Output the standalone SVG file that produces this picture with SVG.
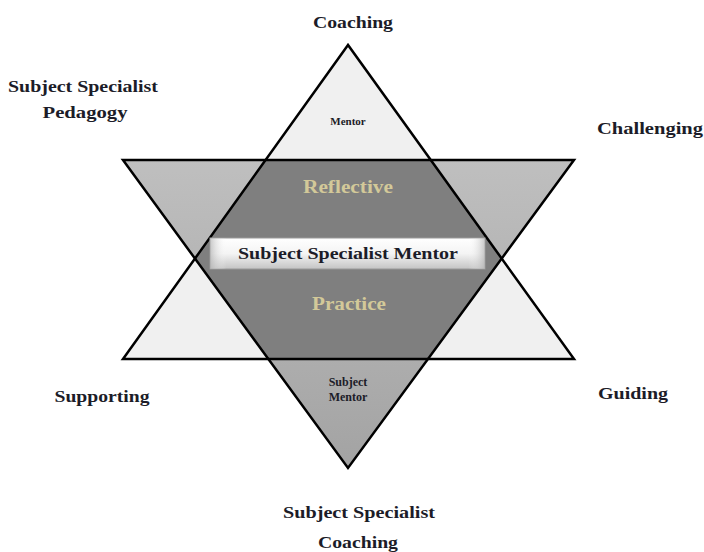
<svg xmlns="http://www.w3.org/2000/svg" width="704" height="552" viewBox="0 0 704 552">
<defs>
<linearGradient id="downGrad" x1="0" y1="0" x2="0" y2="1">
<stop offset="0" stop-color="#bfbfbf"/>
<stop offset="1" stop-color="#a3a3a3"/>
</linearGradient>
<linearGradient id="boxGrad" x1="0" y1="0" x2="0" y2="1">
<stop offset="0" stop-color="#ffffff"/>
<stop offset="0.5" stop-color="#f4f4f4"/>
<stop offset="1" stop-color="#c4c4c4"/>
</linearGradient>
<linearGradient id="boxSide" x1="0" y1="0" x2="1" y2="0">
<stop offset="0" stop-color="#b0b0b0" stop-opacity="0.7"/>
<stop offset="0.06" stop-color="#ffffff" stop-opacity="0"/>
<stop offset="0.94" stop-color="#ffffff" stop-opacity="0"/>
<stop offset="1" stop-color="#b0b0b0" stop-opacity="0.7"/>
</linearGradient>
</defs>
<style>
.lbl{font-family:"Liberation Serif","Times New Roman",serif;font-weight:bold;fill:#1c1c28;text-anchor:middle}
.big{font-size:17px}
.tan{font-family:"Liberation Serif","Times New Roman",serif;font-weight:bold;fill:#d3c999;text-anchor:middle;font-size:18px}
.edge{fill:none;stroke:#000;stroke-width:2.5;stroke-linejoin:miter}
</style>
<rect width="704" height="552" fill="#ffffff"/>
<g id="up-triangle">
<polygon points="348,45 123,359 574,359" fill="#f0f0f0"/>
</g>
<g id="down-triangle">
<polygon points="123,160 574,160 348,468" fill="url(#downGrad)"/>
</g>
<g id="center-hexagon">
<polygon points="265.6,160 430.4,160 501,258.6 427.6,359 268.4,359 195,258.6" fill="#7f7f7f"/>
</g>
<g id="connectors">
<polygon class="edge" points="348,45 123,359 574,359"/>
<polygon class="edge" points="123,160 574,160 348,468"/>
</g>
<g id="node-mentor">
<text class="lbl" x="348" y="125" font-size="11">Mentor</text>
</g>
<g id="node-reflective">
<text class="tan" x="348" y="193" textLength="90" lengthAdjust="spacingAndGlyphs">Reflective</text>
</g>
<g id="node-center">
<rect x="210" y="238" width="275" height="31" fill="url(#boxGrad)" stroke="#9a9a9a" stroke-width="1"/>
<rect x="210" y="238" width="275" height="31" fill="url(#boxSide)"/>
<text class="lbl" x="348" y="259" font-size="16" textLength="220" lengthAdjust="spacingAndGlyphs">Subject Specialist Mentor</text>
</g>
<g id="node-practice">
<text class="tan" x="349" y="310" textLength="74" lengthAdjust="spacingAndGlyphs">Practice</text>
</g>
<g id="node-subject-mentor">
<text class="lbl" x="348" y="386" font-size="12">Subject</text>
<text class="lbl" x="348" y="401" font-size="12">Mentor</text>
</g>
<g id="label-coaching-top">
<text class="lbl big" x="353" y="28" textLength="80" lengthAdjust="spacingAndGlyphs">Coaching</text>
</g>
<g id="label-pedagogy">
<text class="lbl big" x="83" y="92" textLength="150" lengthAdjust="spacingAndGlyphs">Subject Specialist</text>
<text class="lbl big" x="85" y="118" textLength="85" lengthAdjust="spacingAndGlyphs">Pedagogy</text>
</g>
<g id="label-challenging">
<text class="lbl big" x="650" y="134" textLength="106" lengthAdjust="spacingAndGlyphs">Challenging</text>
</g>
<g id="label-supporting">
<text class="lbl big" x="102" y="402" textLength="95" lengthAdjust="spacingAndGlyphs">Supporting</text>
</g>
<g id="label-guiding">
<text class="lbl big" x="633" y="399" textLength="70" lengthAdjust="spacingAndGlyphs">Guiding</text>
</g>
<g id="label-coaching-bottom">
<text class="lbl big" x="359" y="518" textLength="152" lengthAdjust="spacingAndGlyphs">Subject Specialist</text>
<text class="lbl big" x="358" y="548" textLength="80" lengthAdjust="spacingAndGlyphs">Coaching</text>
</g>
</svg>
